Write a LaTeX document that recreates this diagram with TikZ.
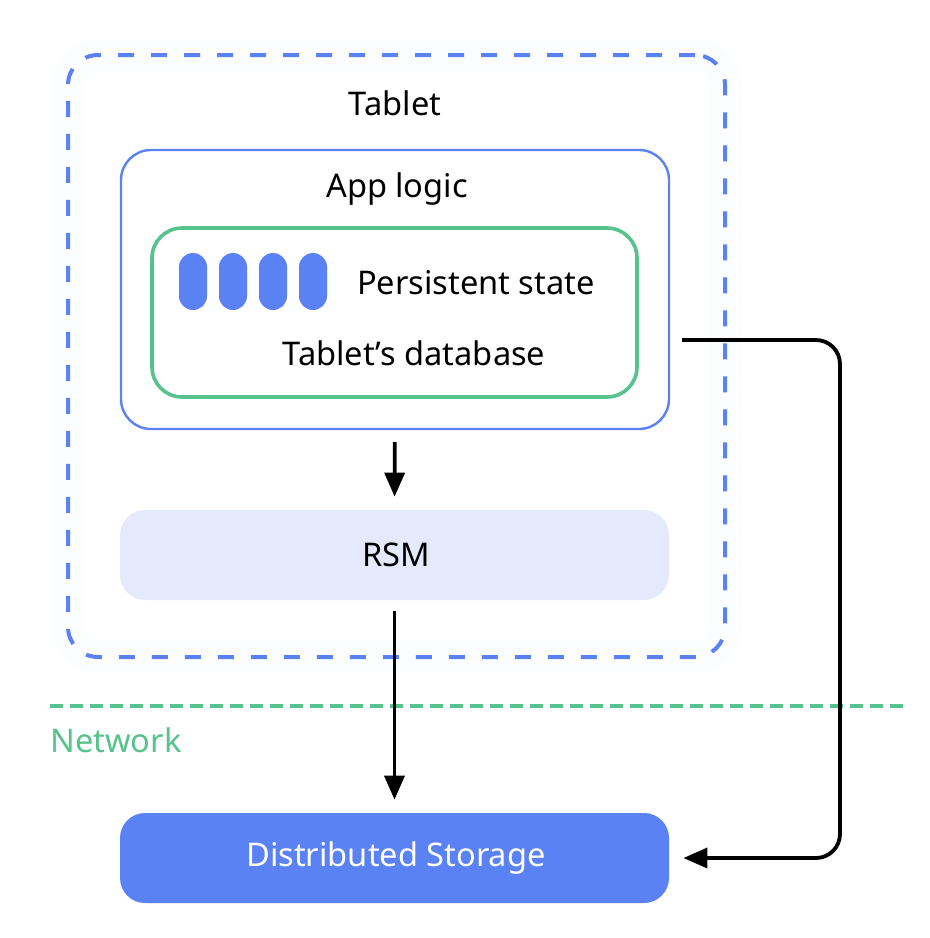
\documentclass[tikz,border=0pt]{standalone}
\usepackage{fontspec}
\setmainfont{Noto Sans}
\usetikzlibrary{arrows.meta}

\definecolor{tabblue}{HTML}{5B82F5}
\definecolor{tabgreen}{HTML}{55C38B}
\definecolor{rsmfill}{HTML}{E4EAFB}
\definecolor{halo}{HTML}{FCFDFF}

\tikzset{
  lbl/.style={font=\fontsize{16.3}{19}\selectfont, inner sep=0pt},
  box/.style={draw, rounded corners=15pt, inner sep=0pt},
  pill/.style={fill=tabblue, rounded corners=7pt, minimum width=14pt, minimum height=28.5pt, inner sep=0pt},
  arr/.style={line width=1.9pt, -{Triangle[length=12pt,width=10pt]}}
}

\begin{document}
\begin{tikzpicture}[x=0.5pt,y=-0.5pt]
\useasboundingbox (0,0) rectangle (930,938);
% tablet
\draw[halo, line width=16pt, rounded corners=15pt] (68,55) rectangle (725,657);
\draw (396.5,356) node[box, tabblue, line width=2pt, dash pattern=on 8pt off 8.5pt, minimum width=328.5pt, minimum height=301pt](tablet) {};
\draw (395,103) node[lbl](tabletlbl) {Tablet};
% app logic
\draw (395,289.5) node[box, tabblue, fill=white, line width=1.2pt, minimum width=274pt, minimum height=139.5pt](app) {};
\draw (397,189) node[lbl](applbl) {App logic};
\draw (394.5,312.5) node[box, tabgreen, line width=1.8pt, minimum width=242.5pt, minimum height=84.5pt](db) {};
\draw (193,281.5) node[pill](p1) {};
\draw (233,281.5) node[pill](p2) {};
\draw (273,281.5) node[pill](p3) {};
\draw (313,281.5) node[pill](p4) {};
\draw (476,283) node[lbl](statelbl) {Persistent state};
\draw (414,353) node[lbl](dblbl) {Tablet’s database};
% rsm
\draw (394.5,555) node[box, fill=rsmfill, draw=none, rounded corners=12.5pt, minimum width=274.5pt, minimum height=45pt](rsm) {};
\draw (396,555) node[lbl](rsmlbl) {RSM};
% network
\draw[tabgreen, line width=2pt, dash pattern=on 6.5pt off 3.5pt] (50,706) -- (905,706);
\draw (50,740) node[lbl, anchor=west, text=tabgreen](net) {Network};
% storage
\draw (394.5,858) node[box, fill=tabblue, draw=none, rounded corners=12.5pt, minimum width=274.5pt, minimum height=45pt](storage) {};
\draw (396,858) node[lbl, text=white](storagelbl) {Distributed Storage};
% arrows
\coordinate (tap) at (682,340);
\draw[arr, shorten <=6pt, shorten >=6.5pt] (app) -- (rsm);
\draw[arr, shorten <=5.5pt, shorten >=6.5pt] (rsm) -- (storage);
\draw[arr, rounded corners=12pt, shorten >=7pt] (tap) -- (840,340) -- (840,858) -- (storage.east);
\end{tikzpicture}
\end{document}
